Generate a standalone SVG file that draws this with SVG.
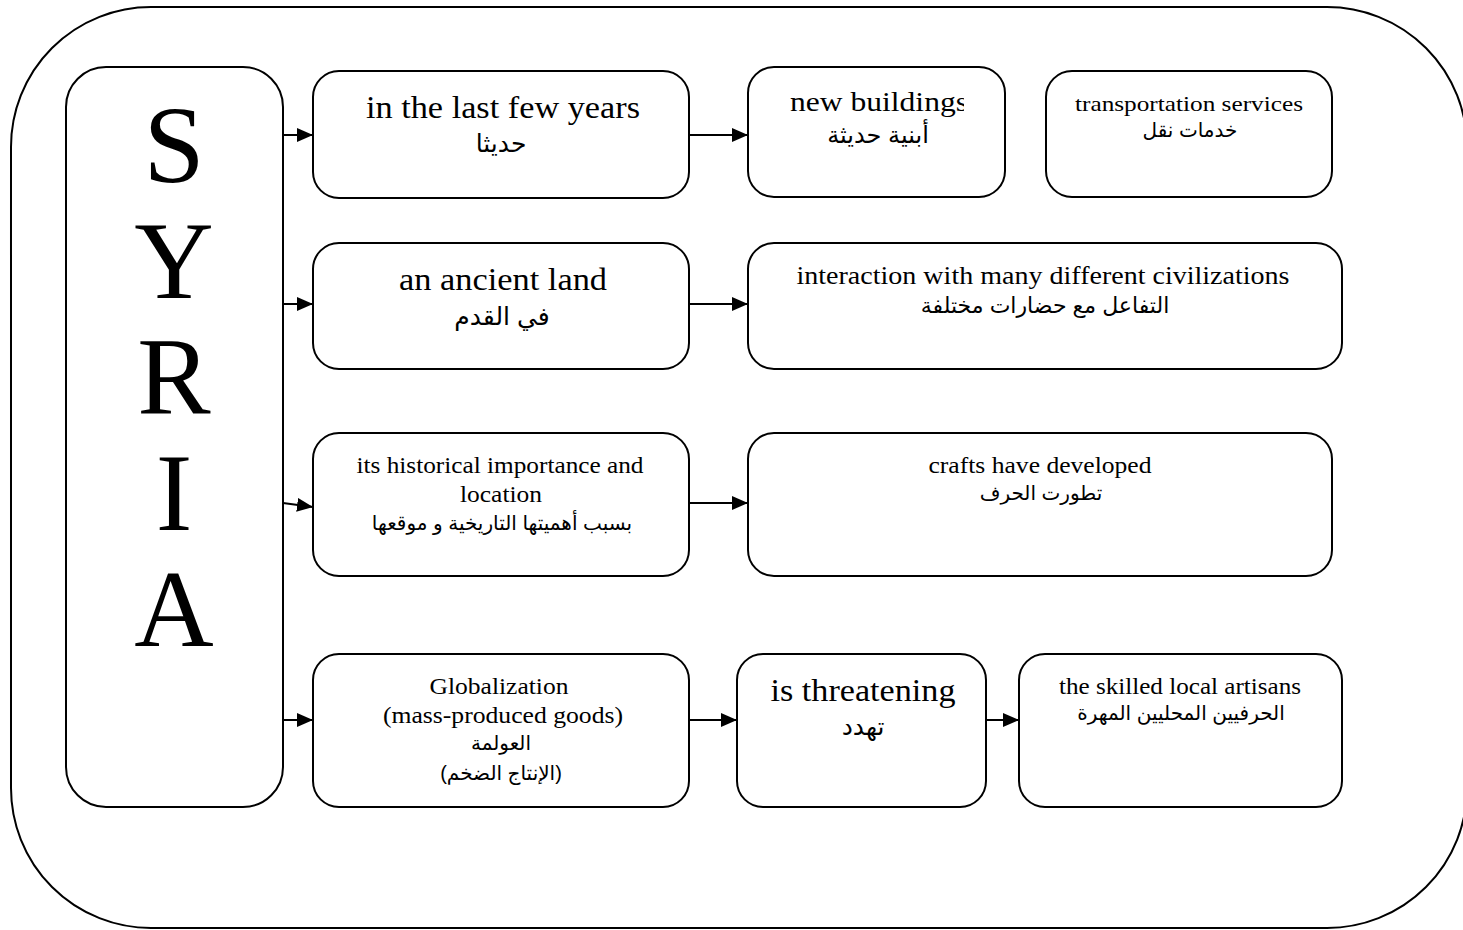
<svg xmlns="http://www.w3.org/2000/svg" width="1463" height="930" viewBox="0 0 1463 930">
  <style>
    .box { fill: #fff; stroke: #000; stroke-width: 2; }
    .frame { fill: none; stroke: #000; stroke-width: 2; }
    .en { font-family: "Liberation Serif", "Times New Roman", serif; fill: #000; text-anchor: middle; }
    .ar { font-family: "Liberation Sans", "DejaVu Sans", sans-serif; fill: #000; text-anchor: middle; }
    .big { font-family: "Liberation Serif", "Times New Roman", serif; font-size: 110px; fill: #000; text-anchor: middle; }
    .conn { stroke: #000; stroke-width: 2; fill: none; }
  </style>
  <defs>
    <marker id="arrow" viewBox="0 0 10 10" refX="10" refY="5" markerWidth="16" markerHeight="14" markerUnits="userSpaceOnUse" orient="auto" preserveAspectRatio="none">
      <path d="M0,0 L10,5 L0,10 Z" fill="#000"/>
    </marker>
    <!-- the label of the new-buildings box is cut off at this edge -->
    <clipPath id="clipNew">
      <rect x="748" y="67" width="216" height="130"/>
    </clipPath>
  </defs>

  <rect width="1463" height="930" fill="#fff"/>

  <!-- outer frame -->
  <rect class="frame" x="11" y="7" width="1456" height="921" rx="140" ry="140"/>

  <!-- title column -->
  <g id="syria">
    <rect class="box" x="66" y="67" width="217" height="740" rx="40" ry="40"/>
    <text class="big" x="174" y="182">S</text>
    <text class="big" x="174" y="298">Y</text>
    <text class="big" x="174" y="414">R</text>
    <text class="big" x="174" y="530">I</text>
    <text class="big" x="174" y="646">A</text>
  </g>

  <!-- row 1 -->
  <g id="last-years">
    <rect class="box" x="313" y="71" width="376" height="127" rx="26" ry="26"/>
    <text class="en" x="503" y="118" font-size="31" textLength="274" lengthAdjust="spacingAndGlyphs">in the last few years</text>
    <text class="ar" x="501" y="152" font-size="25">حديثا</text>
  </g>
  <g id="new-buildings">
    <rect class="box" x="748" y="67" width="257" height="130" rx="26" ry="26"/>
    <text class="en" x="879" y="111" font-size="28" textLength="178" lengthAdjust="spacingAndGlyphs" clip-path="url(#clipNew)">new buildings</text>
    <text class="ar" x="878" y="143" font-size="24">أبنية حديثة</text>
  </g>
  <g id="transportation">
    <rect class="box" x="1046" y="71" width="286" height="126" rx="26" ry="26"/>
    <text class="en" x="1189" y="111" font-size="22" textLength="228" lengthAdjust="spacingAndGlyphs">transportation services</text>
    <text class="ar" x="1190" y="137" font-size="20">خدمات نقل</text>
  </g>

  <!-- row 2 -->
  <g id="ancient-land">
    <rect class="box" x="313" y="243" width="376" height="126" rx="26" ry="26"/>
    <text class="en" x="503" y="290" font-size="31" textLength="208" lengthAdjust="spacingAndGlyphs">an ancient land</text>
    <text class="ar" x="502" y="325" font-size="25">في القدم</text>
  </g>
  <g id="interaction">
    <rect class="box" x="748" y="243" width="594" height="126" rx="26" ry="26"/>
    <text class="en" x="1043" y="284" font-size="25" textLength="493" lengthAdjust="spacingAndGlyphs">interaction with many different civilizations</text>
    <text class="ar" x="1045" y="313" font-size="22">التفاعل مع حضارات مختلفة</text>
  </g>

  <!-- row 3 -->
  <g id="historical">
    <rect class="box" x="313" y="433" width="376" height="143" rx="26" ry="26"/>
    <text class="en" x="500" y="473" font-size="23" textLength="287" lengthAdjust="spacingAndGlyphs">its historical importance and</text>
    <text class="en" x="501" y="502" font-size="23" textLength="82" lengthAdjust="spacingAndGlyphs">location</text>
    <text class="ar" x="502" y="530" font-size="20">بسبب أهميتها التاريخية و موقعها</text>
  </g>
  <g id="crafts">
    <rect class="box" x="748" y="433" width="584" height="143" rx="26" ry="26"/>
    <text class="en" x="1040" y="473" font-size="23" textLength="223" lengthAdjust="spacingAndGlyphs">crafts have developed</text>
    <text class="ar" x="1041" y="500" font-size="20">تطورت الحرف</text>
  </g>

  <!-- row 4 -->
  <g id="globalization">
    <rect class="box" x="313" y="654" width="376" height="153" rx="26" ry="26"/>
    <text class="en" x="499" y="694" font-size="23" textLength="139" lengthAdjust="spacingAndGlyphs">Globalization</text>
    <text class="en" x="503" y="723" font-size="23" textLength="240" lengthAdjust="spacingAndGlyphs">(mass-produced goods)</text>
    <text class="ar" x="501" y="750" font-size="20">العولمة</text>
    <text class="ar" x="501" y="780" font-size="20">(الإنتاج الضخم)</text>
  </g>
  <g id="threatening">
    <rect class="box" x="737" y="654" width="249" height="153" rx="26" ry="26"/>
    <text class="en" x="863" y="701" font-size="31" textLength="185" lengthAdjust="spacingAndGlyphs">is threatening</text>
    <text class="ar" x="863" y="735" font-size="25">تهدد</text>
  </g>
  <g id="artisans">
    <rect class="box" x="1019" y="654" width="323" height="153" rx="26" ry="26"/>
    <text class="en" x="1180" y="694" font-size="23" textLength="242" lengthAdjust="spacingAndGlyphs">the skilled local artisans</text>
    <text class="ar" x="1181" y="720" font-size="20">الحرفيين المحليين المهرة</text>
  </g>

  <!-- connectors -->
  <g id="connectors">
    <line class="conn" x1="283" y1="135" x2="313" y2="135" marker-end="url(#arrow)"/>
    <line class="conn" x1="283" y1="304" x2="313" y2="304" marker-end="url(#arrow)"/>
    <line class="conn" x1="283" y1="503" x2="313" y2="507" marker-end="url(#arrow)"/>
    <line class="conn" x1="283" y1="720" x2="313" y2="720" marker-end="url(#arrow)"/>
    <line class="conn" x1="689" y1="135" x2="748" y2="135" marker-end="url(#arrow)"/>
    <line class="conn" x1="689" y1="304" x2="748" y2="304" marker-end="url(#arrow)"/>
    <line class="conn" x1="689" y1="503" x2="748" y2="503" marker-end="url(#arrow)"/>
    <line class="conn" x1="689" y1="720" x2="737" y2="720" marker-end="url(#arrow)"/>
    <line class="conn" x1="986" y1="720" x2="1019" y2="720" marker-end="url(#arrow)"/>
  </g>
</svg>
